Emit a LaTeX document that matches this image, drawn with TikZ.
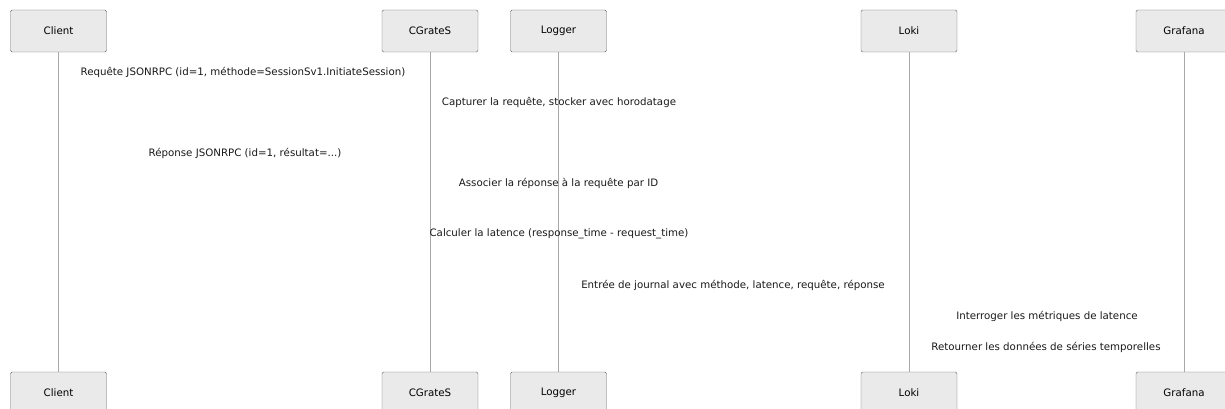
\documentclass[tikz,border=0pt]{standalone}
\usepackage{fontspec}
\setmainfont{DejaVu Sans}
\usepackage{tikz}
\tikzset{>=latex}
\definecolor{actorfill}{HTML}{EAEAEA}
\definecolor{actorline}{HTML}{666666}
\definecolor{lifeline}{HTML}{A8A8A8}
\tikzset{
  actor/.style={draw=actorline,fill=actorfill,rounded corners=1.5pt,minimum width=96pt,minimum height=42pt,inner sep=0pt,font=\fontsize{10.25}{12}\selectfont},
  msg/.style={font=\fontsize{10.25}{12}\selectfont,inner sep=0pt,text=black!90},
  life/.style={lifeline,line width=0.8pt}
}

\begin{document}
\begin{tikzpicture}[x=1pt,y=-1pt]
  \useasboundingbox (0,0) rectangle (1225,409);
  % actors, top and bottom
  \foreach \name/\lbl/\xx in {client/Client/58.5, cgrates/CGrateS/430, logger/Logger/558.5, loki/Loki/909, grafana/Grafana/1184} {
    \node[actor] (\name Top) at (\xx,31) {\lbl};
    \node[actor] (\name Bot) at (\xx,393) {\lbl};
    \draw[life] (\name Top.south) -- (\name Bot.north);
  }
  % messages
  \node[msg] (reqMsg) at (243,72) {Requête JSONRPC (id=1, méthode=SessionSv1.InitiateSession)};
  \node[msg] (capMsg) at (559,102) {Capturer la requête, stocker avec horodatage};
  \node[msg] (repMsg) at (245,153) {Réponse JSONRPC (id=1, résultat=...)};
  \node[msg] (assocMsg) at (558.5,183) {Associer la réponse à la requête par ID};
  \node[msg] (latMsg) at (559,234) {Calculer la latence (response\_time - request\_time)};
  \node[msg] (logMsg) at (733,285) {Entrée de journal avec méthode, latence, requête, réponse};
  \node[msg] (queryMsg) at (1047,316) {Interroger les métriques de latence};
  \node[msg] (retMsg) at (1046,347) {Retourner les données de séries temporelles};
\end{tikzpicture}
\end{document}
